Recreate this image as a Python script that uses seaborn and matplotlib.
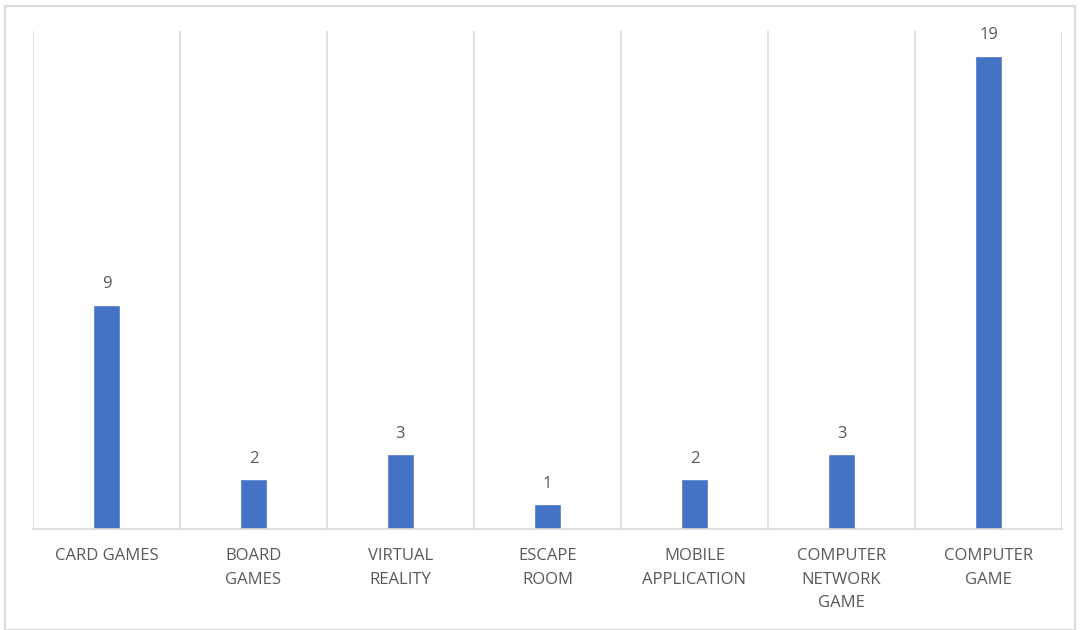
import matplotlib
matplotlib.use("Agg")
import matplotlib.pyplot as plt
import seaborn as sns
import pandas as pd
import numpy as np
from matplotlib.patches import Rectangle

categories = ["CARD GAMES", "BOARD\nGAMES", "VIRTUAL\nREALITY", "ESCAPE\nROOM",
              "MOBILE\nAPPLICATION", "COMPUTER\nNETWORK\nGAME", "COMPUTER\nGAME"]
values = [9, 2, 3, 1, 2, 3, 19]

sns.set_theme(style="white")
plt.rcParams['font.family'] = ['Open Sans', 'DejaVu Sans']

df = pd.DataFrame({"cat": categories, "val": values})

fig = plt.figure(figsize=(10.8, 6.3), dpi=100)
ax = fig.add_axes([33/1080, 1 - 529/630, (1062 - 33)/1080, (529 - 31)/630])

sns.barplot(data=df, x="cat", y="val", color="#4472C4", width=0.185,
            saturation=1, ax=ax, errorbar=None)

ax.set_ylim(0, 20)
ax.set_xlim(-0.5, len(categories) - 0.5)
ax.set_yticks([])
ax.set_xlabel("")
ax.set_ylabel("")

for s in ["top", "right", "left"]:
    ax.spines[s].set_visible(False)
ax.spines["bottom"].set_color("#d9d9d9")
ax.spines["bottom"].set_linewidth(1.2)

ax.set_xticks(np.arange(-0.5, len(categories), 1.0), minor=True)
ax.grid(which="minor", axis="x", color="#d9d9d9", linewidth=1.2)
ax.tick_params(axis="x", which="both", length=0, pad=14)
ax.set_xticks(range(len(categories)))
ax.set_xticklabels(categories, fontsize=12, color="#595959", linespacing=1.6,
                   va="top")

for container in ax.containers:
    ax.bar_label(container, labels=[str(v) for v in values], padding=9,
                 fontsize=12, color="#595959")

fig.patches.append(Rectangle((5/1080, 0.5/630), 1070/1080, 624/630,
                             transform=fig.transFigure, fill=False,
                             edgecolor="#d9d9d9", linewidth=1.5))

fig.savefig("out.png", dpi=100)
